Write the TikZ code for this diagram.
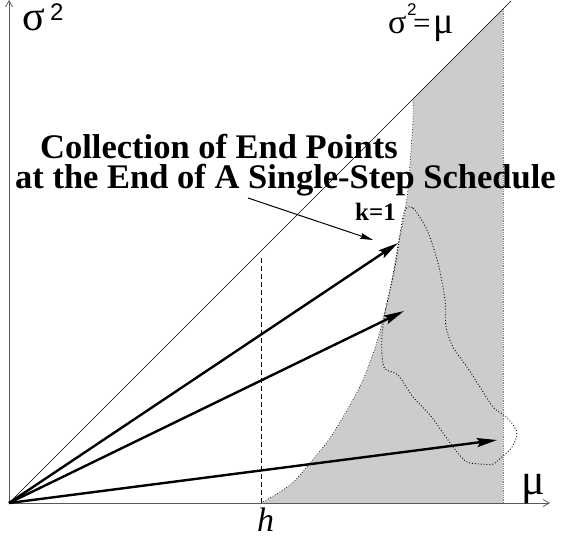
\documentclass[tikz,border=0pt]{standalone}
\usepackage{fontspec}
\setmainfont{Liberation Serif}
\newfontfamily\sansf{Liberation Sans}
\usetikzlibrary{arrows.meta}
\definecolor{regiongray}{gray}{0.8}
\definecolor{axisgray}{gray}{0.35}
\begin{document}
\begin{tikzpicture}[x=1pt,y=-1pt,
  bigarrow/.style={line width=2.4pt,-{Stealth[length=20pt,width=9pt,inset=3pt]}},
  thinarrow/.style={line width=1pt,-{Stealth[length=13pt,width=6pt,inset=2pt]}},
  axisline/.style={axisgray,line width=0.8pt,-{Straight Barb[length=6pt,width=7pt]}},
  lab/.style={inner sep=0pt,anchor=base west}]
\useasboundingbox (0,0) rectangle (564,542);
\coordinate (O) at (9,503);
\coordinate (xend) at (550,503);
\coordinate (yend) at (9,0);
\coordinate (diagend) at (511,1);
\coordinate (hbot) at (261,503);
\coordinate (htop) at (261,258);
\coordinate (cornerT) at (503,9);
\coordinate (cornerB) at (503,503);
\coordinate (t1) at (398,243);
\coordinate (t2) at (404,311);
\coordinate (t3) at (497,440);
\coordinate (ann0) at (248,198);
\coordinate (ann1) at (373,240);
% shaded region
\fill[regiongray] plot[smooth,tension=0.5] coordinates {(261,503) (290,485) (310,463) (330,438) (350,405) (363,380) (376,345) (384,315) (392,280) (398,245) (403,222) (408,190) (411,150) (413,120) (413,99)} -- (cornerT) -- (cornerB) -- cycle;
\draw[dotted,line width=0.7pt] plot[smooth,tension=0.5] coordinates {(261,503) (290,485) (310,463) (330,438) (350,405) (363,380) (376,345) (384,315) (392,280) (398,245) (403,222) (408,190) (411,150) (413,120) (413,99)};
\draw[densely dotted,gray,line width=0.8pt] (cornerT) -- (cornerB);
\draw[densely dotted,gray,line width=0.8pt] (hbot) -- (cornerB);
% blob
\draw[dotted,line width=0.9pt] plot[smooth cycle,tension=0.5] coordinates {(405,210) (413,208) (427,230) (438,263) (445,300) (446,327) (453,347) (467,367) (480,387) (493,407) (505,416) (514,426) (517,435) (512,447) (503,456) (493,464) (480,464) (467,462) (457,452) (443,433) (430,415) (413,397) (398,375) (385,369) (382,355) (382,335) (385,313) (390,290) (396,262) (401,228)};
% axes
\draw[axisline] (O) -- (xend);
\draw[axisline] (O) -- (yend);
\draw[line width=0.6pt] (O) -- (diagend);
\draw[dashed,dash pattern=on 5pt off 3pt,line width=0.7pt] (hbot) -- (htop);
% arrows
\draw[bigarrow] (O) -- (t1);
\draw[bigarrow] (O) -- (t2);
\draw[bigarrow] (O) -- (t3);
\draw[thinarrow] (ann0) -- (ann1);
% labels
\node[lab,text height=18pt,text depth=0pt] (sig) at (22,30) {\fontsize{42}{42}\selectfont σ};
\node[lab,text height=16pt,text depth=0pt] (sig2) at (50,20) {\fontsize{24}{24}\selectfont\sansf 2};
\node[lab,text height=14pt,text depth=0pt] (eqs) at (388,33) {\fontsize{34}{34}\selectfont σ};
\node[lab,text height=12pt,text depth=0pt] (eq2) at (407,15) {\fontsize{17}{17}\selectfont\sansf 2};
\node[lab,text height=9pt,text depth=0pt] (eqeq) at (413,33) {\fontsize{31}{31}\selectfont =};
\node[lab,text height=14pt] (eqmu) at (433,33) {\fontsize{38}{38}\selectfont μ};
\node[lab,text height=18pt] (mu) at (521,494) {\fontsize{44}{44}\selectfont μ};
\node[lab] (h) at (257,531) {\fontsize{34}{34}\selectfont\itshape h};
\node[lab,text depth=0pt] (l1) at (40,158) {\fontsize{34.5}{34.5}\selectfont\bfseries Collection of End Points};
\node[lab,text height=23pt] (l2) at (15,188) {\fontsize{34.5}{34.5}\selectfont\bfseries at the End of A Single-Step Schedule};
\node[lab] (k) at (355,220) {\fontsize{25}{25}\selectfont\bfseries k=1};
\end{tikzpicture}
\end{document}
